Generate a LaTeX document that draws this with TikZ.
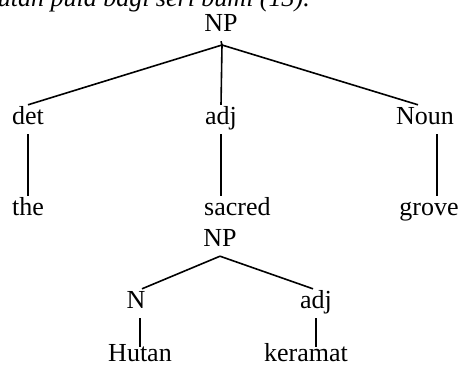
\documentclass[tikz,border=0pt]{standalone}
\usepackage{fontspec}
\setmainfont{Liberation Serif}
\usetikzlibrary{calc}
\begin{document}
\begin{tikzpicture}[x=1pt,y=-1pt,
  lbl/.style={font=\fontsize{26}{30}\selectfont, inner xsep=0pt, inner ysep=5pt, text height=14pt, text depth=5pt, anchor=base},
  leaf/.style={lbl, inner ysep=1pt, text height=15pt, text depth=3pt},
  edge/.style={line width=1.6pt}]
\useasboundingbox (0,0) rectangle (462,368);
\begin{scope}
\clip (0,0) rectangle (462,368);
\node[font=\itshape\fontsize{26}{30}\selectfont, anchor=base east, inner sep=0pt] (cap) at (310,6) {hutan pula bagi seri bumi (13).};
\end{scope}
% upper tree
\node[lbl] (np) at (221,31) {NP};
\coordinate (apex) at (222,45);
\node[lbl] (det) at (28,124) {det};
\node[lbl] (adj) at (221,124) {adj};
\node[lbl] (noun) at (425,124) {Noun};
\node[lbl] (the) at (28,215) {the};
\node[lbl, anchor=base west] (sacred) at (204,215) {sacred};
\node[lbl] (grove) at (429,215) {grove};
\draw[edge] (np.south) -- (apex);
\draw[edge] (apex) -- (det.north);
\draw[edge] (apex) -- (adj.north);
\draw[edge] (apex) -- ($(noun.north)+(-7,0)$);
\draw[edge] (det.south) -- (the.north -| det.south);
\draw[edge] (adj.south) -- (sacred.north -| adj.south);
\draw[edge] ($(noun.south)+(12,0)$) -- ($(grove.north)+(8,0)$);
% lower tree
\node[lbl] (np2) at (220,246) {NP};
\node[lbl] (n) at (136,308) {N};
\node[lbl] (adj2) at (316,308) {adj};
\node[leaf] (hutan) at (140,361) {Hutan};
\node[leaf] (keramat) at (306,361) {keramat};
\draw[edge] (np2.south) -- ($(n.north)+(6,0)$);
\draw[edge] (np2.south) -- ($(adj2.north)+(-3,0)$);
\draw[edge] ($(n.south)+(4,0)$) -- ($(hutan.north)+(0,2)$);
\draw[edge] (adj2.south) -- ($(adj2.south |- hutan.north)+(0,2)$);
\end{tikzpicture}
\end{document}
